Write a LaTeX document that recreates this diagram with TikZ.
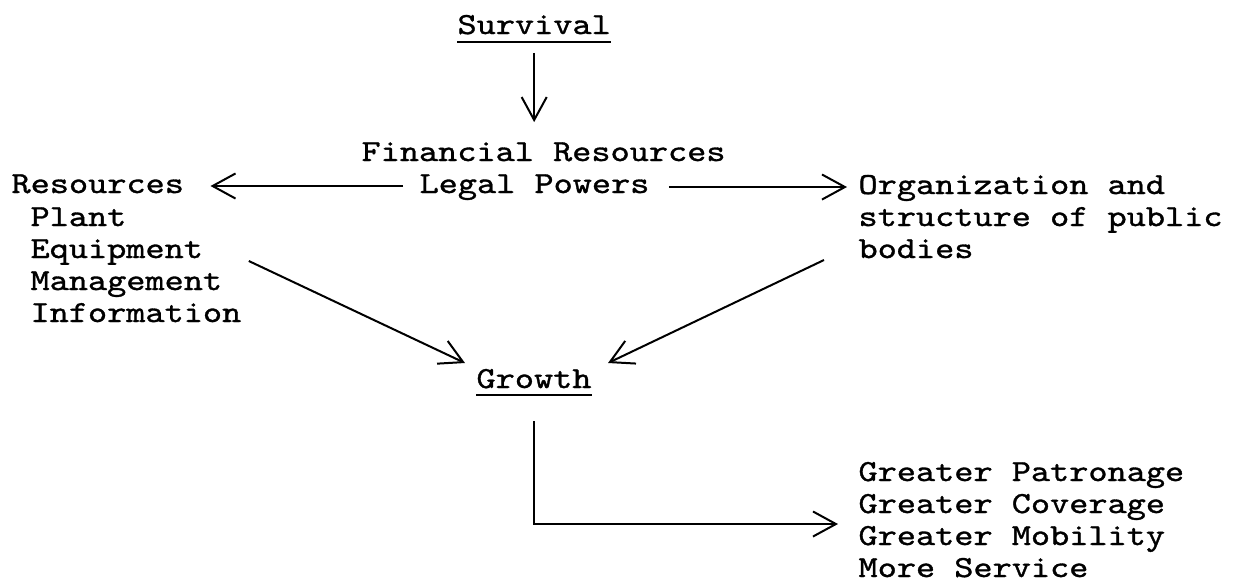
\documentclass[tikz,border=0pt]{standalone}
\usepackage{fontspec}
\newfontfamily\typed{lmmono10-regular.otf}[FakeBold=1.1, FakeStretch=1.19]
\usetikzlibrary{arrows.meta}

\begin{document}
\begin{tikzpicture}[
    x=0.375pt, y=-0.375pt,
    font=\typed\fontsize{11.5}{12}\selectfont,
    txt/.style={anchor=base west, inner sep=0pt, align=left},
    flow/.style={-{Straight Barb[length=8.6pt, width=9.4pt]}, line width=0.75pt},
    uline/.style={line width=0.75pt},
]
    \useasboundingbox (0,0) rectangle (1234,580);
    % typed text, each node sits on the baseline of its last line
    \node[txt] (surv) at (457,34) {Survival};
    \node[txt] (fin) at (361,161) {Financial Resources};
    \node[txt] (legal) at (419,193) {Legal Powers};
    \node[txt] (reshead) at (11,193) {Resources};
    \node[txt] (resitems) at (30,322) {Plant\\Equipment\\Management\\Information};
    \node[txt] (org) at (858,258) {Organization and\\structure of public\\bodies};
    \node[txt] (grow) at (476,388) {Growth};
    \node[txt] (outcome) at (858,577) {Greater Patronage\\Greater Coverage\\Greater Mobility\\More Service};
    % underlines
    \draw[uline] ([yshift=-3pt]surv.base west) -- ([yshift=-3pt]surv.base east);
    \draw[uline] ([yshift=-2.6pt]grow.base west) -- ([yshift=-2.6pt]grow.base east);
    % arrows
    \draw[flow] ([yshift=-7.1pt]surv.base) -- ([yshift=14.6pt]surv.base |- fin.base);
    \draw[flow] ([shift={(-16,-7)}]legal.base west) -- ([shift={(26,-7)}]reshead.base east);
    \draw[flow] ([shift={(19,-6)}]legal.base east) -- ([shift={(-11,-6)}]legal.base east -| org.west);
    \draw[flow] ([shift={(7,-61)}]resitems.base east) -- ([shift={(-11,-25)}]grow.base west);
    \draw[flow] ([shift={(-34,2)}]org.base west) -- ([shift={(16,-25)}]grow.base east);
    \draw[flow] ([yshift=-12.4pt]grow.base) |- ([shift={(-20,-53)}]outcome.base west);
\end{tikzpicture}
\end{document}
